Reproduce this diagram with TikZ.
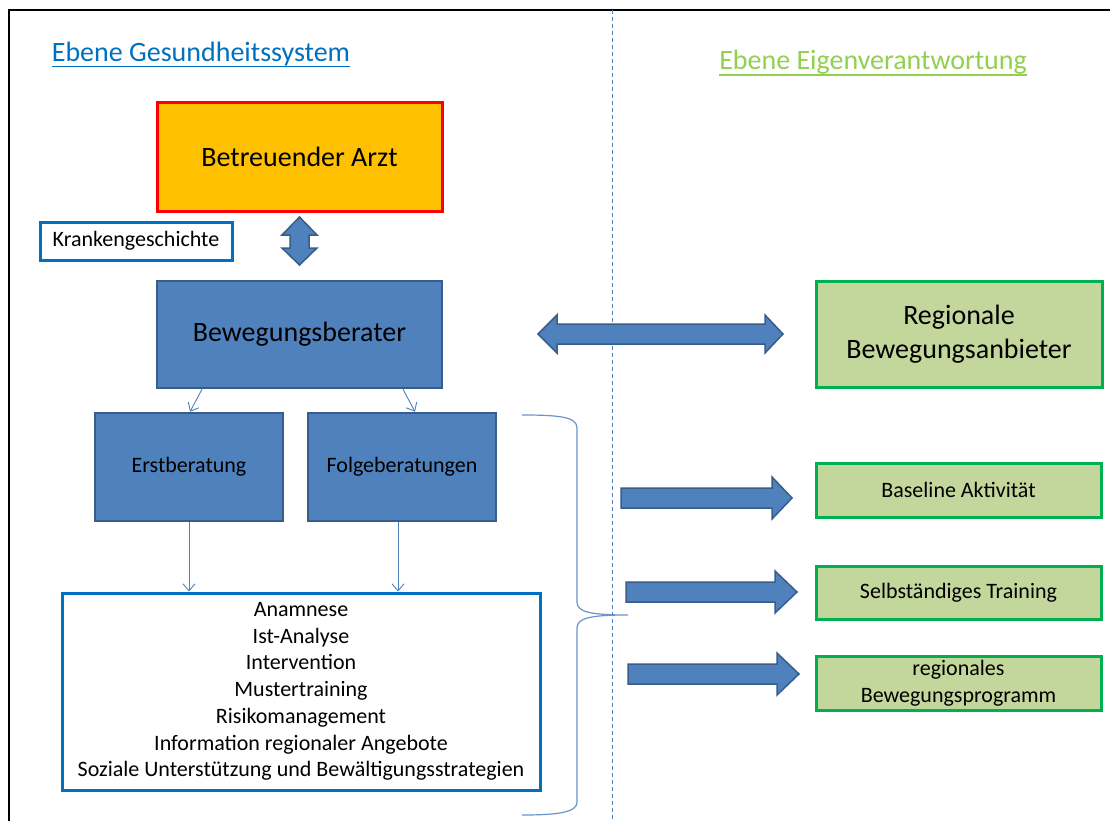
\documentclass[tikz,border=0pt]{standalone}
\usepackage{fontspec}
\setmainfont{Carlito}
\usetikzlibrary{arrows.meta}
\definecolor{hblue}{HTML}{0070C0}
\definecolor{hgreen}{HTML}{92D050}
\definecolor{accfill}{HTML}{4F81BD}
\definecolor{accline}{HTML}{385D8A}
\definecolor{olivefill}{HTML}{C3D69B}
\definecolor{boxgreen}{HTML}{00B050}
\definecolor{arztfill}{HTML}{FFC000}
\definecolor{bracecol}{HTML}{6A95CC}
\begin{document}
\begin{tikzpicture}[x=1pt,y=-1pt,
  every node/.style={inner sep=0pt, align=center, text=black},
  big/.style={font=\fontsize{28}{34}\selectfont},
  small/.style={font=\fontsize{22}{26.7}\selectfont},
  arztbox/.style={draw=red, fill=arztfill, line width=3pt},
  bluebox/.style={draw=accline, fill=accfill, line width=2.5pt},
  greenbox/.style={draw=boxgreen, fill=olivefill, line width=3pt},
  whitebox/.style={draw=hblue, fill=white, line width=3pt},
  blockarrow/.style={draw=accline, fill=accfill, line width=1.5pt, line join=miter},
  thinarrow/.style={draw=accfill, line width=0.9pt, -{Straight Barb[length=7pt,width=12pt]}},
  heading/.style={font=\fontsize{28}{34}\selectfont, anchor=base}
]
\useasboundingbox (0,0) rectangle (1110,821);
\fill[white] (0,0) rectangle (1110,821);
% frame and separator
\draw[line width=2pt] (9,821) -- (9,10) -- (1110,10);
\draw[accfill, line width=1pt, dash pattern=on 4pt off 3pt] (612,10) -- (612,821);
% headings
\node[heading, text=hblue] (h1) at (201,62) {Ebene Gesundheitssystem};
\draw[hblue, line width=1.8pt] ([yshift=-4.5pt]h1.base west) -- ([yshift=-4.5pt]h1.base east);
\node[heading, text=hgreen] (h2) at (873,70) {Ebene Eigenverantwortung};
\draw[hgreen, line width=1.8pt] ([yshift=-5pt]h2.base west) -- ([yshift=-5pt]h2.base east);
% boxes
\node[arztbox, big, minimum width=285, minimum height=108] (arzt) at (299.5,157) {Betreuender Arzt};
\node[whitebox, small, minimum width=192, minimum height=38] (kg) at (136,241) {Krankengeschichte};
\node[bluebox, big, minimum width=285, minimum height=107] (bb) at (299.5,334.5) {Bewegungsberater};
\node[greenbox, big, minimum width=286, minimum height=106] (rba) at (959,334) {Regionale\\Bewegungsanbieter};
\node[bluebox, small, minimum width=188, minimum height=108] (erst) at (189,467) {Erstberatung};
\node[bluebox, small, minimum width=188, minimum height=108] (folg) at (402,467) {Folgeberatungen};
\node[whitebox, small, minimum width=478, minimum height=197] (list) at (301,691.5)
  {Anamnese\\Ist-Analyse\\Intervention\\Mustertraining\\Risikomanagement\\Information regionaler Angebote\\Soziale Unterstützung und Bewältigungsstrategien};
\node[greenbox, small, minimum width=285, minimum height=54] (base) at (958.5,490) {Baseline Aktivität};
\node[greenbox, small, minimum width=285, minimum height=53] (selb) at (958.5,592.5) {Selbständiges Training};
\node[greenbox, small, minimum width=285, minimum height=54] (prog) at (958.5,683) {regionales\\Bewegungsprogramm};
% thin arrows
\draw[thinarrow] ([xshift=-97.5pt]bb.south) -- ([xshift=1pt]erst.north);
\draw[thinarrow] ([xshift=103.5pt]bb.south) -- ([xshift=13pt]folg.north);
\draw[thinarrow] (erst.south) -- (erst.south |- list.north);
\draw[thinarrow] ([xshift=-4pt]folg.south) -- ([xshift=-4pt]folg.south |- list.north);
% vertical double arrow (Arzt <-> Bewegungsberater)
\draw[blockarrow] (299.5,217) -- (317,235) -- (309,235) -- (309,248) -- (317,248) -- (299.5,265)
  -- (282,248) -- (290,248) -- (290,235) -- (282,235) -- cycle;
% horizontal double arrow (Bewegungsberater <-> Regionale Bewegungsanbieter)
\draw[blockarrow] (538,334) -- (557,315) -- (557,324) -- (765,324) -- (765,315) -- (783,334)
  -- (765,353) -- (765,344) -- (557,344) -- (557,353) -- cycle;
% brace
\draw[bracecol, line width=1.2pt] (522,415) .. controls (560,415) and (577,417) .. (577,428)
  -- (577,602) .. controls (577,612) and (590,615) .. (628,615)
  .. controls (590,615) and (577,618) .. (577,628)
  -- (577,802) .. controls (577,812) and (560,815) .. (522,815);
% right block arrows
\draw[blockarrow] (621,488) -- (772,488) -- (772,477) -- (792,498) -- (772,519) -- (772,508) -- (621,508) -- cycle;
\draw[blockarrow] (626,582) -- (775,582) -- (775,571) -- (797,592) -- (775,613) -- (775,602) -- (626,602) -- cycle;
\draw[blockarrow] (628,664) -- (777,664) -- (777,653) -- (799,674) -- (777,695) -- (777,684) -- (628,684) -- cycle;
\end{tikzpicture}
\end{document}
